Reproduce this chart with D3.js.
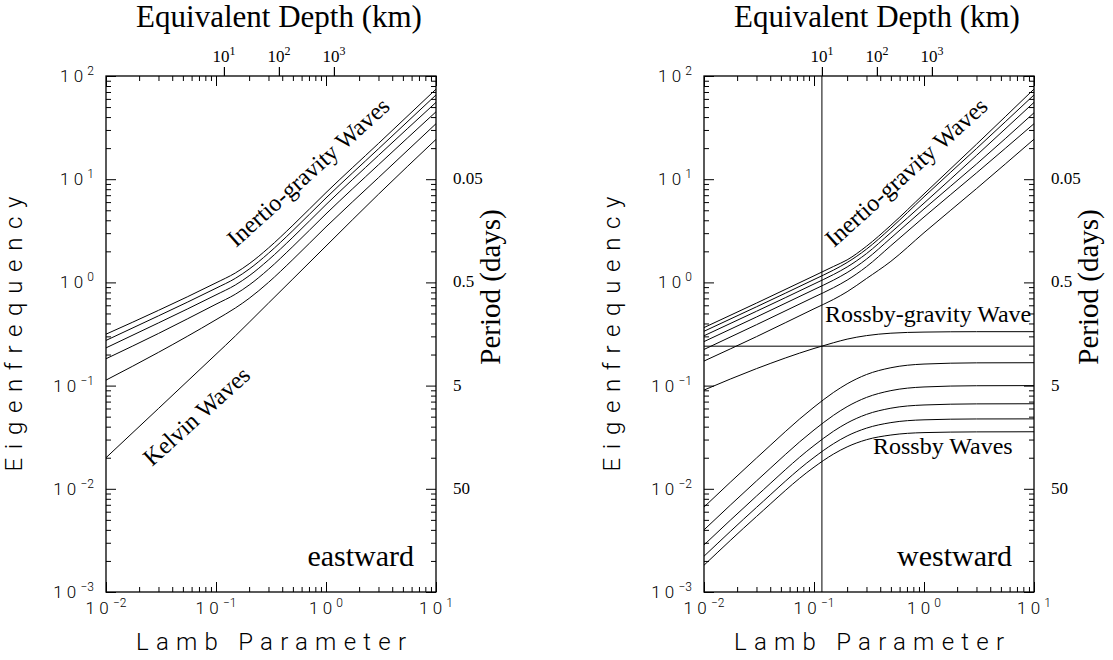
<!DOCTYPE html>
<html><head><meta charset="utf-8">
<script src="https://cdn.jsdelivr.net/npm/d3@7"></script>
<style>
body{margin:0;background:#fff;}
svg{display:block;}
</style></head>
<body><svg id="c" width="1113" height="660"></svg>
<script>
// ---------- data ----------
const lamb = [0.01, 0.03, 0.1, 0.15, 0.2, 0.3, 0.5, 1, 3, 10];
const eastKelvin = [0.02, 0.06, 0.201, 0.303, 0.41, 0.63, 1.08, 2.25, 7.15, 24.3];
const eastIG = [
  [0.113, 0.21, 0.435, 0.565, 0.70, 1.0, 1.667, 3.45, 10.35, 34.5],
  [0.182, 0.32, 0.615, 0.768, 0.942, 1.34, 2.23, 4.61, 13.8, 45.0],
  [0.232, 0.405, 0.757, 0.944, 1.158, 1.65, 2.74, 5.67, 17.0, 55.5],
  [0.274, 0.474, 0.878, 1.095, 1.344, 1.915, 3.18, 6.58, 19.7, 65.5],
  [0.315, 0.536, 0.99, 1.234, 1.514, 2.155, 3.58, 7.41, 22.2, 74.5]
];
const westIG = [
  [0.173, 0.298, 0.555, 0.683, 0.812, 1.09, 1.6, 3.03, 8.1, 24.4],
  [0.224, 0.389, 0.72, 0.887, 1.052, 1.42, 2.27, 4.3, 11.5, 34.5],
  [0.267, 0.462, 0.852, 1.05, 1.245, 1.68, 2.69, 5.15, 14.0, 44.0],
  [0.304, 0.525, 0.965, 1.19, 1.41, 1.90, 3.04, 5.86, 17.0, 55.5],
  [0.336, 0.58, 1.066, 1.314, 1.558, 2.1, 3.36, 6.75, 19.8, 65.5],
  [0.365, 0.63, 1.158, 1.425, 1.652, 2.24, 3.58, 7.2, 21.8, 74.7]
];
const westRG = [0.0905, 0.146, 0.229, 0.26, 0.282, 0.305, 0.322, 0.330, 0.333, 0.333];
const westRossby = [
  [0.00666, 0.01986, 0.0619, 0.0857, 0.104, 0.128, 0.149, 0.1617, 0.1661, 0.1666],
  [0.004, 0.01191, 0.03714, 0.05145, 0.0625, 0.0768, 0.0894, 0.097, 0.0997, 0.1],
  [0.002857, 0.0085, 0.02626, 0.03605, 0.0434, 0.0526, 0.0604, 0.0649, 0.0665, 0.0667],
  [0.002222, 0.0066, 0.02014, 0.0273, 0.0325, 0.0387, 0.0438, 0.0466, 0.0475, 0.0476],
  [0.001818, 0.00539, 0.0162, 0.02167, 0.02548, 0.0299, 0.0332, 0.03504, 0.0356, 0.0357]
];
const refLamb = 0.118;   // 10 km equivalent depth
const refFreq = 0.241;
const depthTickLamb = [0.118, 0.373, 1.18];
const depthTickExp = ["1", "2", "3"];
const xTickVals = [0.01, 0.1, 1, 10];
const xTickExp = ["\u22122", "\u22121", "0", "1"];
const yTickVals = [0.001, 0.01, 0.1, 1, 10, 100];
const yTickExp = ["\u22123", "\u22122", "\u22121", "0", "1", "2"];
const periodVals = [10, 1, 0.1, 0.01];
const periodLabels = ["0.05", "0.5", "5", "50"];

// ---------- layout ----------
const SANS = "Roboto, 'DejaVu Sans', sans-serif";
const SERIF = "'Liberation Serif', 'Times New Roman', serif";
const svg = d3.select("#c");
const TOP = 76, BOT = 592, PW = 330;
const panels = [
  {left: 106, dir: "eastward"},
  {left: 704, dir: "westward"}
];

function txt(parent, fam, size) {
  return parent.append("text").attr("font-family", fam).attr("font-size", size).attr("fill", "#000");
}
function supLabel(sel, exp, size, supSize, dy) {
  sel.append("tspan").text("10").attr("letter-spacing", size * 0.25);
  sel.append("tspan").text(exp).attr("font-size", supSize).attr("dy", dy);
}

panels.forEach((p, pi) => {
  const L = p.left, R = L + PW;
  const xs = d3.scaleLog().domain([0.01, 10]).range([L, R]);
  const ys = d3.scaleLog().domain([0.001, 100]).range([BOT, TOP]);
  const g = svg.append("g");

  const isMajor = v => Math.abs(Math.log10(v) - Math.round(Math.log10(v))) < 1e-6;
  const xt = xs.ticks(), yt = ys.ticks();
  const xMaj = xt.filter(isMajor), xMin = xt.filter(v => !isMajor(v));
  const yMaj = yt.filter(isMajor), yMin = yt.filter(v => !isMajor(v));

  function ax(gen, tr, vals, len) {
    const a = g.append("g").attr("transform", tr)
      .call(gen.tickValues(vals).tickSize(-len).tickFormat(""));
    a.select(".domain").remove();
    a.selectAll("line").attr("stroke", "#000").attr("stroke-width", 1);
  }
  ax(d3.axisBottom(xs), `translate(0,${BOT})`, xMin, 5);
  ax(d3.axisBottom(xs), `translate(0,${BOT})`, xMaj, 10);
  ax(d3.axisTop(xs), `translate(0,${TOP})`, xMin, 5);
  ax(d3.axisTop(xs), `translate(0,${TOP})`, xMaj, 10);
  ax(d3.axisLeft(ys), `translate(${L},0)`, yMin, 5);
  ax(d3.axisLeft(ys), `translate(${L},0)`, yMaj, 10);
  ax(d3.axisRight(ys), `translate(${R},0)`, yMin, 5);
  ax(d3.axisRight(ys), `translate(${R},0)`, yMaj, 10);
  const da = g.append("g").attr("transform", `translate(0,${TOP})`)
    .call(d3.axisTop(xs).tickValues(depthTickLamb).tickSize(9).tickFormat(""));
  da.select(".domain").remove();
  da.selectAll("line").attr("stroke", "#000").attr("stroke-width", 1.2);

  g.append("rect").attr("x", L).attr("y", TOP).attr("width", PW).attr("height", BOT - TOP)
    .attr("fill", "none").attr("stroke", "#000").attr("stroke-width", 1.3);

  const cid = "clip" + pi;
  svg.append("clipPath").attr("id", cid).append("rect")
    .attr("x", L).attr("y", TOP).attr("width", PW).attr("height", BOT - TOP);
  const cg = g.append("g").attr("clip-path", `url(#${cid})`);
  const line = d3.line().x(d => xs(d[0])).y(d => ys(d[1])).curve(d3.curveMonotoneX);
  const draw = vals => cg.append("path").attr("d", line(lamb.map((x, i) => [x, vals[i]])))
    .attr("fill", "none").attr("stroke", "#000").attr("stroke-width", 1);

  if (pi === 0) {
    draw(eastKelvin);
    eastIG.forEach(draw);
  } else {
    westIG.forEach(draw);
    draw(westRG);
    westRossby.forEach(draw);
    cg.append("line").attr("x1", xs(refLamb)).attr("x2", xs(refLamb)).attr("y1", TOP).attr("y2", BOT)
      .attr("stroke", "#000").attr("stroke-width", 1);
    cg.append("line").attr("x1", L).attr("x2", R).attr("y1", ys(refFreq)).attr("y2", ys(refFreq))
      .attr("stroke", "#000").attr("stroke-width", 1);
  }

  xTickVals.forEach((v, i) => {
    const t = txt(g, SANS, 17).attr("font-weight", 300).attr("x", xs(v)).attr("y", 614)
      .attr("text-anchor", "middle");
    supLabel(t, xTickExp[i], 17, 12, -7);
  });
  yTickVals.forEach((v, i) => {
    const t = txt(g, SANS, 17).attr("font-weight", 300).attr("x", L - 12).attr("y", ys(v) + 6)
      .attr("text-anchor", "end");
    supLabel(t, yTickExp[i], 17, 12, -7);
  });
  periodVals.forEach((v, i) => {
    txt(g, SERIF, 17).attr("x", R + 17).attr("y", ys(v) + 5).text(periodLabels[i]);
  });
  depthTickLamb.forEach((v, i) => {
    const t = txt(g, SERIF, 17).attr("x", xs(v)).attr("y", 62).attr("text-anchor", "middle");
    t.append("tspan").text("10");
    t.append("tspan").text(depthTickExp[i]).attr("font-size", 12).attr("dy", -7);
  });
  txt(g, SERIF, 31).attr("x", L + 173).attr("y", 27)
    .attr("text-anchor", "middle").text("Equivalent Depth (km)");
  txt(g, SANS, 24).attr("font-weight", 300).attr("x", L + 165).attr("y", 650)
    .attr("text-anchor", "middle")
    .attr("textLength", 270).attr("lengthAdjust", "spacing").text("Lamb Parameter");
  txt(g, SANS, 24).attr("font-weight", 300).attr("transform", `translate(${L - 84},334) rotate(-90)`)
    .attr("text-anchor", "middle")
    .attr("textLength", 275).attr("lengthAdjust", "spacing").text("Eigenfrequency");
  txt(g, SERIF, 29).attr("transform", `translate(${R + 64},287) rotate(-90)`)
    .attr("text-anchor", "middle").text("Period (days)");
  txt(g, SERIF, 30).attr("x", R - 22).attr("y", 566)
    .attr("text-anchor", "end").text(p.dir);

  txt(g, SERIF, 24).attr("transform", `translate(${L + 130},${248}) rotate(-42)`)
    .text("Inertio-gravity Waves");
  if (pi === 0) {
    txt(g, SERIF, 24).attr("transform", `translate(${L + 46},${467}) rotate(-42)`)
      .text("Kelvin Waves");
  } else {
    txt(g, SERIF, 24).attr("x", L + 121).attr("y", 322).text("Rossby-gravity Wave");
    txt(g, SERIF, 24).attr("x", L + 169).attr("y", 454).text("Rossby Waves");
  }
});
</script></body></html>
